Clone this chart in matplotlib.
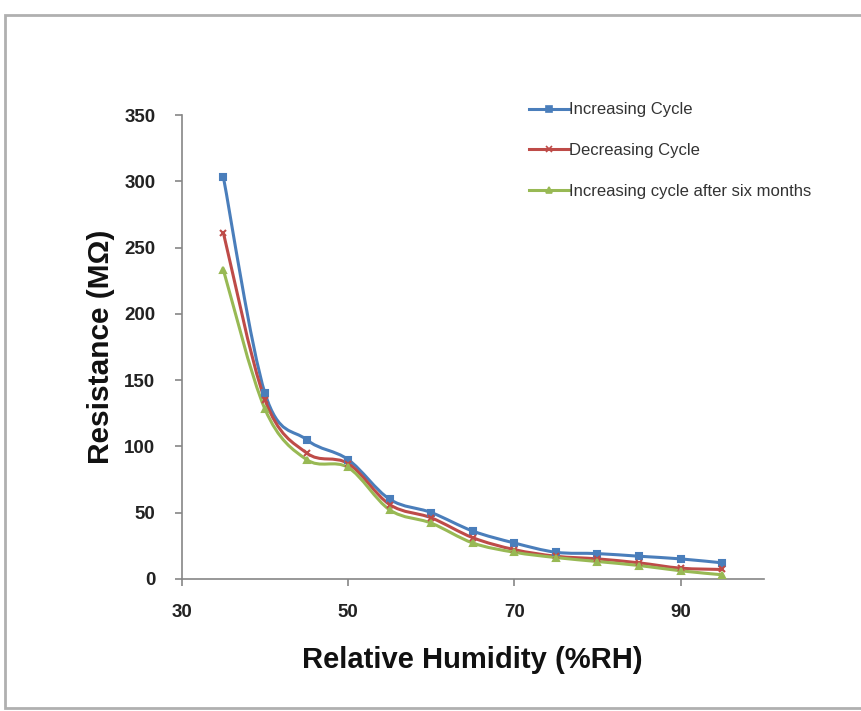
import numpy as np
import matplotlib.pyplot as plt
from matplotlib.path import Path
from matplotlib.patches import PathPatch, Rectangle
from matplotlib.lines import Line2D

# data
humidity = [35, 40, 45, 50, 55, 60, 65, 70, 75, 80, 85, 90, 95]
increasing = [303, 140, 105, 90, 60, 50, 36, 27, 20, 19, 17, 15, 12]
decreasing = [261, 135, 95, 87, 56, 46, 31, 22, 17, 15, 12, 8, 7]
after_six_months = [233, 128, 90, 84, 52, 42, 27, 20, 16, 13, 10, 6, 3]

labels = ["Increasing Cycle", "Decreasing Cycle", "Increasing cycle after six months"]
colors = ["#4A7EBB", "#BE4B48", "#98B954"]
markers = ["s", "x", "^"]

narrow = ["Liberation Sans Narrow", "Liberation Sans"]


def smooth_path(x, y, t=1 / 6):
    # Excel-like smoothed line: cubic bezier segments (Catmull-Rom tangents)
    pts = np.column_stack([x, y]).astype(float)
    verts = [pts[0]]
    codes = [Path.MOVETO]
    n = len(pts)
    for i in range(n - 1):
        p0 = pts[i - 1] if i > 0 else pts[i]
        p1 = pts[i]
        p2 = pts[i + 1]
        p3 = pts[i + 2] if i + 2 < n else pts[i + 1]
        c1 = p1 + (p2 - p0) * t
        c2 = p2 - (p3 - p1) * t
        verts += [c1, c2, p2]
        codes += [Path.CURVE4] * 3
    return Path(verts, codes)


fig = plt.figure(figsize=(8.62, 7.11), dpi=100)
fig.patches.append(Rectangle((0.006, 0.004), 0.994, 0.975, transform=fig.transFigure,
                             fill=False, edgecolor="#b0b0b0", linewidth=2))

ax = fig.add_axes([0.211, 0.186, 0.675, 0.652])

series = [increasing, decreasing, after_six_months]
handles = []
for vals, lab, col, mk in zip(series, labels, colors, markers):
    ax.add_patch(PathPatch(smooth_path(humidity, vals), fill=False,
                           edgecolor=col, linewidth=2.2, zorder=3))
    ax.plot(humidity, vals, linestyle="none", marker=mk, color=col,
            markersize=5, markeredgewidth=1.5, zorder=4)
    handles.append(Line2D([], [], color=col, linewidth=2.2, marker=mk,
                          markersize=4, markeredgewidth=1.2))

ax.set_xlim(30, 100)
ax.set_ylim(0, 350)
ax.set_xticks([30, 50, 70, 90])
ax.set_yticks(range(0, 351, 50))

for side in ["top", "right"]:
    ax.spines[side].set_visible(False)
for side in ["left", "bottom"]:
    ax.spines[side].set_color("#868686")
    ax.spines[side].set_linewidth(1.2)

ax.tick_params(direction="out", length=5, color="#868686", width=1.2)
ax.tick_params(axis="x", pad=13)
ax.tick_params(axis="y", pad=14)
for lbl in ax.get_xticklabels() + ax.get_yticklabels():
    lbl.set_fontfamily(narrow)
    lbl.set_fontweight("bold")
    lbl.set_fontsize(13.5)
    lbl.set_color("#222222")

ax.set_xlabel("Relative Humidity (%RH)", fontsize=21, fontweight="bold",
              family="Liberation Sans", labelpad=18, color="#111111")
ax.set_ylabel("Resistance (M\u03a9)", fontsize=21.5, fontweight="bold",
              family="Liberation Sans", labelpad=7, color="#111111")

ax.legend(handles, labels, loc="upper left", bbox_to_anchor=(0.57, 1.06),
          frameon=False, handlelength=2.4, handletextpad=0.05, labelspacing=1.55,
          prop={"family": narrow, "size": 12},
          labelcolor="#333333")

fig.savefig("out.png", dpi=100)
